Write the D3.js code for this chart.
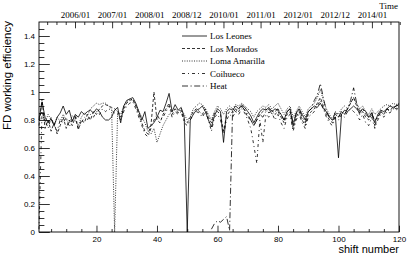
<!DOCTYPE html>
<html>
<head>
<meta charset="utf-8">
<title>FD working efficiency</title>
<script src="https://d3js.org/d3.v7.min.js"></script>
<style>
  body { margin: 0; background: #fff; }
  .tick text { font-family: "Liberation Sans", Arial, sans-serif; font-size: 8px; fill: #000; }
  .top .tick text { font-family: "Liberation Serif", "Times New Roman", serif; font-size: 9px; }
  .tick line { stroke: #000; stroke-width: 0.8; }
</style>
</head>
<body>
<div id="chart"></div>
<script>
// shift numbers 1..120
var shifts = d3.range(1, 121);

var losLeones = [
  0.80,0.93,0.82,0.78,0.81,0.76,0.82,0.85,0.90,0.84,
  0.87,0.79,0.84,0.82,0.86,0.84,0.86,0.87,0.85,0.88,
  0.86,0.82,0.80,0.80,0.82,0.87,0.89,0.78,0.90,0.94,
  0.95,0.96,0.92,0.86,0.80,0.86,0.74,0.76,0.78,0.82,
  0.87,0.86,0.92,0.99,0.86,0.91,0.87,0.89,0.82,0.00,
  0.80,0.84,0.87,0.88,0.90,0.86,0.80,0.75,0.83,0.88,
  0.86,0.64,0.86,0.88,0.87,0.90,0.88,0.91,0.89,0.86,
  0.83,0.78,0.82,0.86,0.88,0.87,0.89,0.86,0.88,0.87,
  0.84,0.80,0.86,0.88,0.76,0.85,0.88,0.84,0.80,0.86,
  0.88,0.90,0.89,0.92,0.88,0.86,0.82,0.80,0.82,0.53,
  0.84,0.87,0.86,0.88,0.90,0.88,0.85,0.88,0.86,0.82,
  0.85,0.78,0.84,0.87,0.86,0.88,0.90,0.89,0.90,0.91
];

var losMorados = [
  0.76,0.95,0.74,0.80,0.72,0.78,0.70,0.76,0.82,0.74,
  0.80,0.76,0.82,0.73,0.80,0.78,0.84,0.80,0.86,0.84,
  0.88,0.90,0.91,0.90,0.89,0.88,0.86,0.82,0.88,0.92,
  0.94,0.95,0.90,0.84,0.78,0.72,0.70,0.76,1.00,0.80,
  0.78,0.84,0.88,0.92,0.84,0.88,0.85,0.87,0.80,0.78,
  0.82,0.86,0.88,0.86,0.84,0.88,0.82,0.78,0.85,0.86,
  0.84,0.72,0.83,0.86,0.85,0.88,0.86,0.90,0.87,0.82,
  0.80,0.76,0.80,0.84,0.86,0.88,0.85,0.87,0.84,0.86,
  0.82,0.78,0.84,0.86,0.74,0.82,0.86,0.80,0.76,0.84,
  0.86,0.88,0.92,0.96,0.90,0.84,0.80,0.78,0.84,0.82,
  0.86,0.84,0.88,0.92,0.96,0.90,0.84,0.86,0.82,0.80,
  0.84,0.80,0.82,0.86,0.84,0.88,0.87,0.89,0.88,0.90
];

var lomaAmarilla = [
  0.82,0.86,0.78,0.84,0.80,0.76,0.82,0.79,0.84,0.80,
  0.78,0.83,0.80,0.76,0.82,0.85,0.83,0.88,0.90,0.92,
  0.91,0.92,0.92,0.90,0.88,0.00,0.86,0.84,0.90,0.93,
  0.95,0.94,0.91,0.86,0.82,0.78,0.72,0.70,0.74,0.64,
  0.70,0.76,0.80,0.84,0.86,0.88,0.86,0.88,0.84,0.80,
  0.82,0.88,0.90,0.92,0.91,0.88,0.84,0.80,0.86,0.90,
  0.88,0.84,0.88,0.90,0.88,0.91,0.90,0.92,0.90,0.88,
  0.86,0.82,0.86,0.88,0.90,0.89,0.91,0.88,0.90,0.92,
  0.88,0.84,0.88,0.90,0.82,0.86,0.90,0.86,0.82,0.88,
  0.90,0.92,0.96,1.02,0.94,0.88,0.84,0.80,0.86,0.84,
  0.88,0.90,0.88,0.92,0.96,0.92,0.88,0.90,0.86,0.84,
  0.88,0.84,0.86,0.88,0.90,0.91,0.90,0.92,0.91,0.92
];

var coihueco = [
  0.02,0.86,0.80,0.74,0.82,0.76,0.72,0.80,0.78,0.82,
  0.75,0.80,0.84,0.74,0.78,0.82,0.80,0.84,0.82,0.86,
  0.84,0.88,0.86,0.88,0.87,0.85,0.84,0.80,0.86,0.90,
  0.92,0.93,0.88,0.82,0.76,0.70,0.68,0.74,0.80,0.84,
  0.80,0.82,0.86,0.90,0.82,0.86,0.84,0.86,0.78,0.76,
  0.80,0.84,0.86,0.85,0.82,0.86,0.80,0.72,0.82,0.84,
  0.80,0.70,0.80,0.84,0.82,0.86,0.84,0.88,0.85,0.80,
  0.74,0.62,0.49,0.80,0.64,0.84,0.82,0.85,0.80,0.84,
  0.78,0.74,0.82,0.84,0.72,0.80,0.84,0.78,0.74,0.82,
  0.84,0.86,0.90,0.94,0.88,0.82,0.78,0.76,0.82,0.80,
  0.84,0.82,0.86,0.88,0.86,0.84,0.80,0.84,0.78,0.76,
  0.82,0.74,0.80,0.84,0.82,0.86,0.85,0.88,0.87,0.89
];

// HEAT only from shift 58 on
var heat = [
  null,null,null,null,null,null,null,null,null,null,
  null,null,null,null,null,null,null,null,null,null,
  null,null,null,null,null,null,null,null,null,null,
  null,null,null,null,null,null,null,null,null,null,
  null,null,null,null,null,null,null,null,null,null,
  null,null,null,null,null,null,null,0.02,0.06,0.08,
  0.07,0.09,0.11,0.01,0.88,0.86,0.88,0.90,0.87,0.84,
  0.80,0.76,0.80,0.84,0.82,0.86,0.88,0.84,0.86,0.88,
  0.84,0.80,0.86,0.88,0.78,0.84,0.88,0.82,0.78,0.86,
  0.88,0.94,0.98,1.06,0.96,0.86,0.82,0.80,0.86,0.82,
  0.86,0.84,0.88,0.94,1.03,0.92,0.86,0.88,0.84,0.82,
  0.86,0.76,0.82,0.86,0.84,0.88,0.86,0.88,0.90,0.91
];

var seriesNames = ["Los Leones", "Los Morados", "Loma Amarilla", "Coihueco", "Heat"];
var seriesData = [losLeones, losMorados, lomaAmarilla, coihueco, heat];
var dashes = [null, "3,2", "1,1.4", "3,3,1,3", "6,2.5,1.2,2.5"];

var yTicks = [0, 0.2, 0.4, 0.6, 0.8, 1, 1.2, 1.4];
var xTicks = [20, 40, 60, 80, 100, 120];
var timeTicks = [2006, 2007, 2008, 2009, 2010, 2011, 2012, 2013, 2014];
var timeLabels = ["2006/01", "2007/01", "2008/01", "2008/12", "2010/01", "2011/01", "2012/01", "2012/12", "2014/01"];

var width = 407, height = 257;
var L = 39, R = 399, T = 22, B = 232;

var svg = d3.select("#chart").append("svg")
    .attr("width", width)
    .attr("height", height);

var x = d3.scaleLinear().domain([1, 120]).range([L, R]);
var y = d3.scaleLinear().domain([0, 1.5]).range([B, T]);
var t = d3.scaleLinear().domain([2005.03, 2014.73]).range([L, R]);

// bottom axis, ticks pointing inward
svg.append("g").attr("transform", "translate(0," + B + ")")
    .call(d3.axisBottom(x).tickValues(d3.range(5, 121, 5).filter(function(v){ return v % 20; })).tickSize(-3).tickFormat(""))
    .call(function(g){ g.select(".domain").remove(); });
svg.append("g").attr("transform", "translate(0," + B + ")")
    .call(d3.axisBottom(x).tickValues(xTicks).tickSize(-6.3).tickPadding(4).tickFormat(d3.format("d")))
    .call(function(g){ g.select(".domain").remove(); });

// left axis
svg.append("g").attr("transform", "translate(" + L + ",0)")
    .call(d3.axisLeft(y).tickValues(d3.range(0, 30).map(function(i){ return i * 0.05; }).filter(function(v){ return Math.round(v * 100) % 20; })).tickSize(-5.4).tickFormat(""))
    .call(function(g){ g.select(".domain").remove(); });
svg.append("g").attr("transform", "translate(" + L + ",0)")
    .call(d3.axisLeft(y).tickValues(yTicks).tickSize(-10.8).tickPadding(4).tickFormat(function(d){ return d3.format("")(+d.toFixed(1)); }))
    .call(function(g){ g.select(".domain").remove(); });

// top time axis
svg.append("g").attr("transform", "translate(0," + T + ")")
    .call(d3.axisTop(t).tickValues(d3.range(2005.25, 2014.8, 0.25).filter(function(v){ return v % 1; })).tickSize(-3).tickFormat(""))
    .call(function(g){ g.select(".domain").remove(); });
svg.append("g").attr("class", "top").attr("transform", "translate(0," + T + ")")
    .call(d3.axisTop(t).tickValues(timeTicks).tickSize(-6.3).tickPadding(4.5)
        .tickFormat(function(d, i){ return timeLabels[i]; }))
    .call(function(g){ g.select(".domain").remove(); });

// frame
svg.append("rect")
    .attr("x", L).attr("y", T)
    .attr("width", R - L).attr("height", B - T)
    .attr("fill", "none").attr("stroke", "#000").attr("stroke-width", 0.9);

// series
var line = d3.line()
    .defined(function(d){ return d[1] != null; })
    .x(function(d){ return x(d[0]); })
    .y(function(d){ return y(d[1]); });

seriesData.forEach(function(vals, k){
  svg.append("path")
     .datum(shifts.map(function(s, i){ return [s, vals[i]]; }))
     .attr("d", line)
     .attr("fill", "none")
     .attr("stroke", "#000")
     .attr("stroke-width", 0.8)
     .attr("stroke-dasharray", dashes[k]);
});

// legend
var leg = svg.append("g").attr("transform", "translate(182,36)");
seriesNames.forEach(function(n, k){
  var row = leg.append("g").attr("transform", "translate(0," + (k * 12.5) + ")");
  row.append("line").attr("x1", 0).attr("x2", 25).attr("y1", 0).attr("y2", 0)
     .attr("stroke", "#000").attr("stroke-width", 0.8).attr("stroke-dasharray", dashes[k]);
  row.append("text").attr("x", 28).attr("y", 3.2)
     .style("font-family", "'Liberation Serif', 'Times New Roman', serif")
     .style("font-size", "9px")
     .text(n);
});

// titles
svg.append("text")
    .attr("transform", "translate(11," + (T - 1) + ") rotate(-90)")
    .attr("text-anchor", "end")
    .style("font-family", "'Liberation Sans', Arial, sans-serif")
    .style("font-size", "11.5px")
    .text("FD working efficiency");

svg.append("text")
    .attr("x", R).attr("y", 253)
    .attr("text-anchor", "end")
    .style("font-family", "'Liberation Sans', Arial, sans-serif")
    .style("font-size", "11px")
    .text("shift number");

svg.append("text")
    .attr("x", R - 1).attr("y", 8.5)
    .attr("text-anchor", "end")
    .style("font-family", "'Liberation Serif', 'Times New Roman', serif")
    .style("font-size", "9px")
    .text("Time");
</script>
</body>
</html>
